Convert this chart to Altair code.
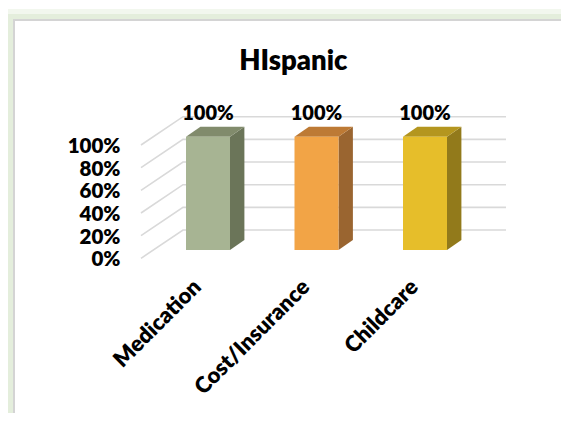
import altair as alt
import pandas as pd

# ---------------- data ----------------
categories = ["Medication", "Cost/Insurance", "Childcare"]
values = [100, 100, 100]
value_labels = ["100%", "100%", "100%"]
y_ticks = [0, 20, 40, 60, 80, 100]
y_tick_labels = ["0%", "20%", "40%", "60%", "80%", "100%"]
title_text = "HIspanic"

# ---------------- styles ----------------
front_colors = ["#a7b493", "#f2a446", "#e6be2a"]
side_colors = ["#6b7559", "#9a6530", "#927a1b"]
top_colors = ["#818b6c", "#bd7a35", "#b4961f"]
FONT = "Lato"
WEIGHT = 800

# ---------------- layout (canvas px -> data units) ----------------
W, H = 553, 405
X0_PX = 200.0      # canvas x of category 0 centre
X_STEP = 108.5     # px between categories
Y0_PX = 250.3      # canvas y of 0 % on the front edge of the floor
Y_STEP = 1.133     # px per percent


def ux(px):
    return (px - X0_PX) / X_STEP


def uy(py):
    return (Y0_PX - py) / Y_STEP


x_dom = [ux(0), ux(W)]
y_dom = [uy(H), uy(0)]
xs = alt.Scale(domain=x_dom, nice=False, zero=False)
ys = alt.Scale(domain=y_dom, nice=False, zero=False)

HALF = 22 / X_STEP          # half bar width
BASE = 8.3 / Y_STEP         # bar depth offset from front of floor
SDX = 14.4 / X_STEP         # bar depth (x)
SDY = 10.0 / Y_STEP         # bar depth (y)
WALL_DX = 42 / X_STEP       # side wall depth (x)
WALL_DY = 28.3 / Y_STEP     # side wall depth (y)
WALL_LEFT = ux(133)
WALL_RIGHT = ux(498)

# ---------------- tables ----------------
front = pd.DataFrame({
    "cat": categories,
    "x": [i - HALF for i in range(len(categories))],
    "x2": [i + HALF for i in range(len(categories))],
    "y": [BASE] * len(categories),
    "y2": [BASE + v for v in values],
})

side_rows = []
top_rows = []
for i, (c, v) in enumerate(zip(categories, values)):
    side_rows.append({"cat": c, "x": i + HALF, "y": BASE, "y2": BASE + v})
    side_rows.append({"cat": c, "x": i + HALF + SDX, "y": BASE + SDY, "y2": BASE + v + SDY})
    top_rows.append({"cat": c, "y": BASE + v, "x": i - HALF, "x2": i + HALF})
    top_rows.append({"cat": c, "y": BASE + v + SDY, "x": i - HALF + SDX, "x2": i + HALF + SDX})
side = pd.DataFrame(side_rows)
top = pd.DataFrame(top_rows)

grid_rows = []
for t in y_ticks:
    grid_rows.append({"t": t, "o": 0, "x": WALL_LEFT, "y": t})
    grid_rows.append({"t": t, "o": 1, "x": WALL_LEFT + WALL_DX, "y": t + WALL_DY})
    grid_rows.append({"t": t, "o": 2, "x": WALL_RIGHT, "y": t + WALL_DY})
grid = pd.DataFrame(grid_rows)

ylab = pd.DataFrame({"x": [ux(112.5)] * len(y_ticks), "y": y_ticks, "label": y_tick_labels})

vlab = pd.DataFrame({
    "x": list(range(len(categories))),
    "y": [BASE + v + SDY for v in values],
    "label": value_labels,
})

xlab = pd.DataFrame({
    "x": [i - 10.5 / X_STEP for i in range(len(categories))],
    "y": [uy(275.5)] * len(categories),
    "label": categories,
})

title_df = pd.DataFrame({"x": [ux(285.3)], "y": [uy(62)], "label": [title_text]})

# frame decoration, kept inside the canvas
frame_v = pd.DataFrame({"x": [ux(6)], "y": [uy(11)], "y2": [uy(H)]})
frame_h = pd.DataFrame({"y": [uy(12)], "x": [ux(5)], "x2": [ux(W)]})
glow_v = pd.DataFrame({"x": [ux(2.5)], "y": [uy(7)], "y2": [uy(H)]})
glow_h1 = pd.DataFrame({"y": [uy(8.5)], "x": [ux(0)], "x2": [ux(W)]})
glow_h2 = pd.DataFrame({"y": [uy(3.5)], "x": [ux(0)], "x2": [ux(W)]})

# ---------------- layers ----------------
X = lambda f="x": alt.X(f"{f}:Q", scale=xs, axis=None)
Y = lambda f="y": alt.Y(f"{f}:Q", scale=ys, axis=None)

glow_v_l = alt.Chart(glow_v).mark_rule(color="#e4eedc", strokeWidth=5).encode(
    x=X(), y=Y(), y2="y2:Q")
glow_h1_l = alt.Chart(glow_h1).mark_rule(color="#e4eedc", strokeWidth=5).encode(
    y=Y(), x=X(), x2="x2:Q")
glow_h2_l = alt.Chart(glow_h2).mark_rule(color="#f2f7ee", strokeWidth=5).encode(
    y=Y(), x=X(), x2="x2:Q")
frame_v_l = alt.Chart(frame_v).mark_rule(color="#d4d4d4", strokeWidth=2).encode(
    x=X(), y=Y(), y2="y2:Q")
frame_h_l = alt.Chart(frame_h).mark_rule(color="#d4d4d4", strokeWidth=2).encode(
    y=Y(), x=X(), x2="x2:Q")

grid_l = alt.Chart(grid).mark_line(color="#d9d9d9", strokeWidth=1.6).encode(
    x=X(), y=Y(), detail="t:N", order="o:Q")

front_l = alt.Chart(front).mark_rect().encode(
    x=X(), x2="x2:Q", y=Y(), y2="y2:Q",
    color=alt.Color("cat:N", scale=alt.Scale(domain=categories, range=front_colors), legend=None),
)
side_l = alt.Chart(side).mark_area(orient="vertical").encode(
    x=X(), y=alt.Y("y:Q", scale=ys, axis=None, stack=None), y2="y2:Q",
    fill=alt.Fill("cat:N", scale=alt.Scale(domain=categories, range=side_colors), legend=None),
    detail="cat:N",
)
top_l = alt.Chart(top).mark_area(orient="horizontal").encode(
    y=Y(), x=alt.X("x:Q", scale=xs, axis=None, stack=None), x2="x2:Q",
    fill=alt.Fill("cat:N", scale=alt.Scale(domain=categories, range=top_colors), legend=None),
    detail="cat:N",
)

ylab_l = alt.Chart(ylab).mark_text(
    font=FONT, fontWeight=WEIGHT, fontSize=20.5, align="right", baseline="middle", dy=2, color="#000000"
).encode(x=X(), y=Y(), text="label:N")

vlab_l = alt.Chart(vlab).mark_text(
    font=FONT, fontWeight=WEIGHT, fontSize=20, align="center", baseline="alphabetic", dy=-7, color="#000000"
).encode(x=X(), y=Y(), text="label:N")

xlab_l = alt.Chart(xlab).mark_text(
    font=FONT, fontWeight=WEIGHT, fontSize=22, align="right", baseline="middle", angle=315, color="#000000"
).encode(x=X(), y=Y(), text="label:N")

title_l = alt.Chart(title_df).mark_text(
    font=FONT, fontWeight=WEIGHT, fontSize=27.5, align="center", baseline="alphabetic", color="#000000"
).encode(x=X(), y=Y(), text="label:N")

chart = alt.layer(
    glow_h2_l, glow_h1_l, glow_v_l, frame_v_l, frame_h_l,
    grid_l, side_l, top_l, front_l,
    ylab_l, vlab_l, xlab_l, title_l,
).resolve_scale(color="independent", fill="independent").properties(
    width=W, height=H,
    autosize=alt.AutoSizeParams(type="none"),
    padding=0,
    background="white",
).configure_view(stroke="transparent", strokeWidth=0)

chart.save("out.html", embed_options={"renderer": "svg", "actions": False})
